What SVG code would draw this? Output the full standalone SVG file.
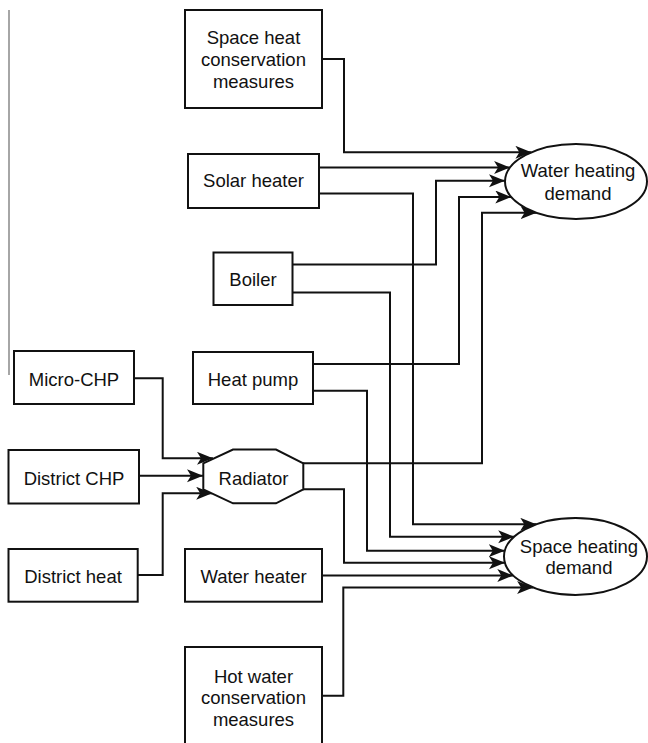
<svg xmlns="http://www.w3.org/2000/svg" width="648" height="743" viewBox="0 0 648 743">
<defs>
<marker id="arr" markerUnits="userSpaceOnUse" markerWidth="17" markerHeight="14" refX="16" refY="6.5" orient="auto">
<path d="M0,0 L16,6.5 L0,13 L4,6.5 Z" fill="#111"/>
</marker>
<style>
.box{fill:#fff;stroke:#111;stroke-width:2}
.t{font-family:"Liberation Sans",Arial,sans-serif;font-size:18.5px;fill:#111;text-anchor:middle}
.c{fill:none;stroke:#111;stroke-width:2;marker-end:url(#arr)}
</style>
</defs>
<rect width="648" height="743" fill="#fff"/>
<line x1="9" y1="10" x2="9" y2="375" stroke="#888" stroke-width="1.5"/>
<g id="connectors">
<path class="c" d="M322,59 H344 V152.3 H531.4"/>
<path class="c" d="M319,167.5 H510.1"/>
<path class="c" d="M319,193.5 H413 V524.3 H536.3"/>
<path class="c" d="M292,264.5 H436 V180.7 H505"/>
<path class="c" d="M292,292.5 H390 V536.7 H514.2"/>
<path class="c" d="M313,364 H459 V197 H511.3"/>
<path class="c" d="M313,390.7 H367 V550.7 H504.8"/>
<path class="c" d="M303,463.3 H482 V212.7 H536.6"/>
<path class="c" d="M303,489.3 H344 V562.7 H505"/>
<path class="c" d="M322,575.5 H513.3"/>
<path class="c" d="M322,695.7 H343.3 V587.5 H533.1"/>
<path class="c" d="M134,378.3 H162.7 V458.3 H213"/>
<path class="c" d="M139,475.7 H203"/>
<path class="c" d="M137.7,575 H162.7 V493.3 H212.2"/>
</g>
<g id="space-heat-conservation">
<rect class="box" x="185" y="10" width="137" height="98"/>
<text class="t" x="253.5" y="44">Space heat</text>
<text class="t" x="253.5" y="66">conservation</text>
<text class="t" x="253.5" y="88">measures</text>
</g>
<g id="solar-heater">
<rect class="box" x="188" y="154" width="131" height="54"/>
<text class="t" x="253.5" y="187">Solar heater</text>
</g>
<g id="boiler">
<rect class="box" x="213.5" y="252.5" width="79" height="52.5"/>
<text class="t" x="253" y="285.5">Boiler</text>
</g>
<g id="micro-chp">
<rect class="box" x="14" y="351" width="120" height="53"/>
<text class="t" x="74" y="386">Micro-CHP</text>
</g>
<g id="heat-pump">
<rect class="box" x="193" y="352" width="120" height="52"/>
<text class="t" x="253" y="386">Heat pump</text>
</g>
<g id="district-chp">
<rect class="box" x="8.5" y="450" width="130.5" height="53.5"/>
<text class="t" x="74" y="484.5">District CHP</text>
</g>
<g id="radiator">
<polygon class="box" points="233,449.5 276,449.5 303.3,463.3 303.3,489.3 276,503.3 233,503.3 203.3,489.3 203.3,463.3"/>
<text class="t" x="253.5" y="484.5">Radiator</text>
</g>
<g id="district-heat">
<rect class="box" x="8.5" y="549" width="129.2" height="52.7"/>
<text class="t" x="73" y="582.7">District heat</text>
</g>
<g id="water-heater">
<rect class="box" x="185" y="549" width="137" height="52.7"/>
<text class="t" x="253.5" y="582.5">Water heater</text>
</g>
<g id="hot-water-conservation">
<rect class="box" x="185" y="647" width="137" height="110"/>
<text class="t" x="253.5" y="682.7">Hot water</text>
<text class="t" x="253.5" y="704">conservation</text>
<text class="t" x="253.5" y="725.7">measures</text>
</g>
<g id="water-heating-demand">
<ellipse class="box" cx="576" cy="181.5" rx="71" ry="37.5"/>
<text class="t" x="578" y="177.3">Water heating</text>
<text class="t" x="578" y="200">demand</text>
</g>
<g id="space-heating-demand">
<ellipse class="box" cx="575.5" cy="556.5" rx="71.5" ry="38.5"/>
<text class="t" x="579" y="552.7">Space heating</text>
<text class="t" x="579" y="574.3">demand</text>
</g>
</svg>
